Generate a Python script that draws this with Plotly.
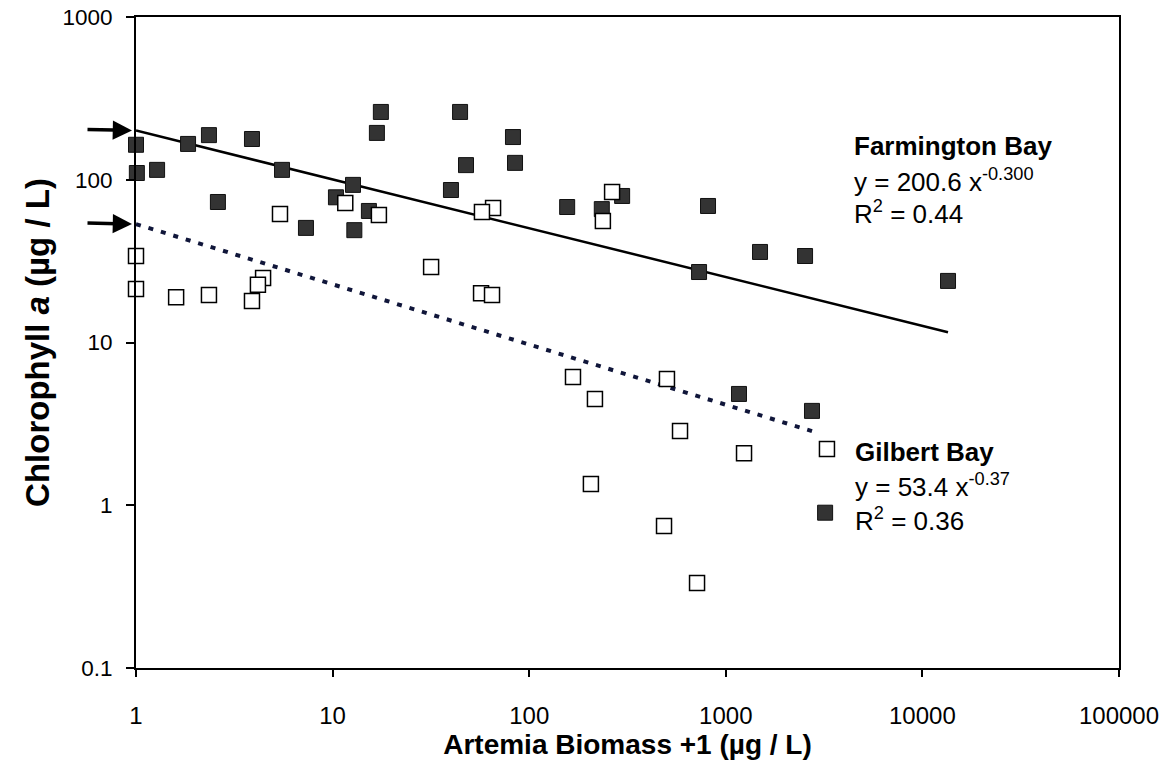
import numpy as np
import plotly.graph_objects as go

# Farmington Bay (filled squares)
farm_x = [1.0, 1.01, 1.28, 1.84, 2.35, 2.61, 3.89, 5.53, 7.32, 10.4, 12.7, 12.9, 15.3, 16.8, 17.6,
          40, 44.5, 47.7, 82.7, 84.7, 156, 234, 297, 812, 731, 1493, 2530, 13500, 1167, 2744, 3200]
farm_y = [164, 110, 115, 166, 188, 73, 178, 115, 50.6, 78, 93, 49, 64.3, 194, 261,
          86.5, 261, 123, 183, 127, 68, 66, 79.5, 69, 27.1, 36, 34, 23.9, 4.83, 3.8, 0.9]

# Gilbert Bay (open squares)
gil_x = [1.0, 1.0, 1.6, 2.35, 4.43, 4.17, 3.89, 5.40, 11.6, 17.2, 65.5, 57.5, 31.7, 56.9, 64.7,
         264, 237, 167, 216, 502, 585, 1238, 3270, 206, 485, 714]
gil_y = [34.0, 21.3, 19.0, 19.6, 24.9, 22.6, 18.0, 61.6, 72, 60.7, 67.1, 63.4, 29.1, 20.1, 19.6,
         84, 55.8, 6.14, 4.5, 5.97, 2.86, 2.09, 2.22, 1.35, 0.746, 0.333]

# Power-law fits: y = a * x^b
farm_a, farm_b, farm_xmax = 200.6, -0.300, 13500
gil_a, gil_b, gil_xmax = 53.4, -0.37, 2880

x_tickvals = [1, 10, 100, 1000, 10000, 100000]
x_ticktext = ["1", "10", "100", "1000", "10000", "100000"]
y_tickvals = [0.1, 1, 10, 100, 1000]
y_ticktext = ["0.1", "1", "10", "100", "1000"]

FONT = "Liberation Sans, Arial, sans-serif"

fx = np.logspace(0, np.log10(farm_xmax), 200)
gx = np.logspace(0, np.log10(gil_xmax), 200)

fig = go.Figure()

fig.add_trace(go.Scatter(x=fx, y=farm_a * fx ** farm_b, mode="lines",
                         line=dict(color="black", width=2.5), hoverinfo="skip"))
fig.add_trace(go.Scatter(x=gx, y=gil_a * gx ** gil_b, mode="lines",
                         line=dict(color="#10163a", width=4, dash="5px,8px"), hoverinfo="skip"))

fig.add_trace(go.Scatter(x=farm_x, y=farm_y, mode="markers", name="Farmington Bay",
                         cliponaxis=False,
                         marker=dict(symbol="square", size=15, color="#333333",
                                     line=dict(color="#111111", width=1))))
fig.add_trace(go.Scatter(x=gil_x, y=gil_y, mode="markers", name="Gilbert Bay",
                         cliponaxis=False,
                         marker=dict(symbol="square", size=15, color="white",
                                     line=dict(color="black", width=1.5))))

ann = []
# Arrows pointing to intercepts
for yv in [farm_a, gil_a]:
    ann.append(dict(x=0, y=np.log10(yv), xref="x", yref="y", ax=-50, ay=-1,
                    showarrow=True, arrowhead=2, arrowsize=1.1, arrowwidth=3.5,
                    arrowcolor="black", text="", standoff=4))

txt_font = dict(family=FONT, size=26, color="black")
ann += [
    dict(x=852, y=146, text="<b>Farmington Bay</b>"),
    dict(x=852, y=180, text="y = 200.6 x<sup>-0.300</sup>"),
    dict(x=852, y=213, text="R<sup>2</sup> = 0.44"),
    dict(x=853, y=452, text="<b>Gilbert Bay</b>"),
    dict(x=853, y=485, text="y = 53.4 x<sup>-0.37</sup>"),
    dict(x=853, y=519, text="R<sup>2</sup> = 0.36"),
]
W, H = 1160, 768
L, R, T, B = 136, 41, 17, 100
for a in ann[2:]:
    px, py = a["x"], a["y"]
    a.update(x=(px - L) / (W - L - R), y=1 - (py - T) / (H - T - B),
             xref="paper", yref="paper", xanchor="left", yanchor="middle",
             showarrow=False, font=txt_font)

fig.update_layout(
    width=W, height=H,
    margin=dict(l=L, r=R, t=T, b=B, autoexpand=False),
    paper_bgcolor="white", plot_bgcolor="white",
    showlegend=False,
    annotations=ann,
    font=dict(family=FONT, color="black"),
)
fig.update_xaxes(
    type="log", range=[0, 5], automargin=False,
    tickvals=x_tickvals, ticktext=x_ticktext,
    tickfont=dict(family=FONT, size=24),
    ticks="outside", ticklen=7, tickwidth=1.5, tickcolor="black",
    ticklabelstandoff=18,
    showline=True, linecolor="black", linewidth=2, mirror=True,
    showgrid=False, zeroline=False,
    title=dict(text="<b>Artemia Biomass +1 (µg / L)</b>", font=dict(family=FONT, size=28),
               standoff=5),
)
fig.update_yaxes(
    type="log", range=[-1, 3], automargin=False,
    tickvals=y_tickvals, ticktext=y_ticktext,
    tickfont=dict(family=FONT, size=22.5),
    ticks="outside", ticklen=8, tickwidth=1.5, tickcolor="black",
    ticklabelstandoff=9,
    showline=True, linecolor="black", linewidth=2, mirror=True,
    showgrid=False, zeroline=False,
    title=dict(text="<b>Chlorophyll <i>a</i> (µg / L)</b>", font=dict(family=FONT, size=33),
               standoff=3),
)

fig.write_html("out.html")
